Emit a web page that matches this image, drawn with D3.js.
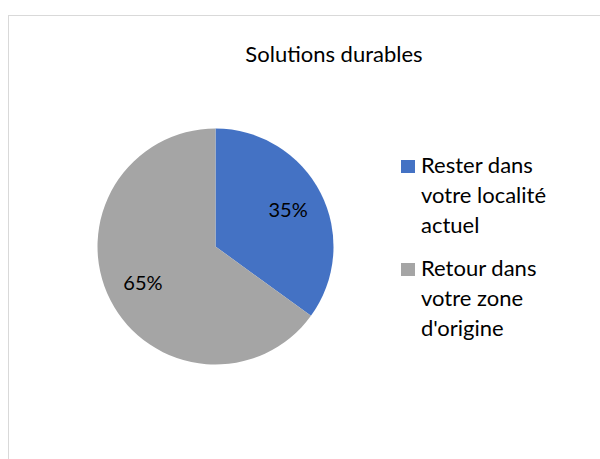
<!DOCTYPE html>
<html>
<head>
<meta charset="utf-8">
<script src="https://cdn.jsdelivr.net/npm/d3@7"></script>
<style>
  body { margin: 0; background: #fff; }
  text { font-family: Lato, "Open Sans", sans-serif; fill: #000; }
</style>
</head>
<body>
<div id="chart"></div>
<script>
// chart data
const title = "Solutions durables";
const categories = ["Rester dans votre localité actuel", "Retour dans votre zone d'origine"];
const legendLines = [["Rester dans", "votre localité", "actuel"], ["Retour dans", "votre zone", "d'origine"]];
const values = [35, 65];
const colors = ["#4472C4", "#A5A5A5"];

const width = 600, height = 459;

const svg = d3.select("#chart")
    .append("svg")
    .attr("width", width)
    .attr("height", height);

// outer chart border
svg.append("rect")
    .attr("x", 8.5)
    .attr("y", 15.5)
    .attr("width", 620)
    .attr("height", 460)
    .attr("fill", "#fff")
    .attr("stroke", "#d9d9d9")
    .attr("stroke-width", 1);

svg.append("text")
    .attr("x", 334)
    .attr("y", 62)
    .attr("text-anchor", "middle")
    .style("font-size", "22px")
    .text(title);

const cx = 215.5, cy = 246.5, r = 118;

const pie = d3.pie().sort(null).value(d => d);
const arc = d3.arc().innerRadius(0).outerRadius(r);
const labelArc = d3.arc().innerRadius(r * 0.69).outerRadius(r * 0.69);

const g = svg.append("g").attr("transform", `translate(${cx},${cy})`);

const slices = g.selectAll(".slice")
    .data(pie(values))
    .enter().append("g")
    .attr("class", "slice");

slices.append("path")
    .attr("d", arc)
    .attr("fill", (d, i) => colors[i]);

slices.append("text")
    .attr("transform", d => `translate(${labelArc.centroid(d)})`)
    .attr("text-anchor", "middle")
    .attr("dy", "0.35em")
    .style("font-size", "20px")
    .text(d => d.data + "%");

// legend
const legend = svg.append("g").attr("transform", "translate(401,0)");
categories.forEach((c, i) => {
    const row = legend.append("g")
        .attr("transform", `translate(0, ${160 + i * 103})`);
    row.append("rect")
        .attr("width", 14)
        .attr("height", 13)
        .attr("fill", colors[i]);
    legendLines[i].forEach((line, j) => {
        row.append("text")
            .attr("x", 20)
            .attr("y", 13 + j * 29.8)
            .style("font-size", "22px")
            .text(line);
    });
});
</script>
</body>
</html>
